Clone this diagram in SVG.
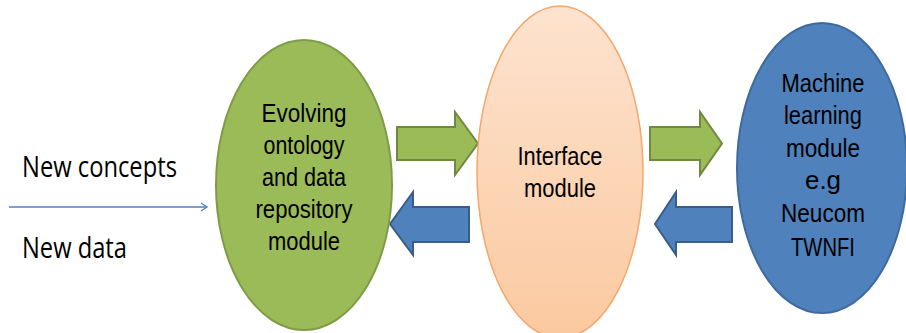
<svg xmlns="http://www.w3.org/2000/svg" width="906" height="333" viewBox="0 0 906 333">
<defs>
<linearGradient id="peach" x1="0" y1="0" x2="0" y2="1">
<stop offset="0" stop-color="#FDE3CF"/>
<stop offset="1" stop-color="#FBC9A0"/>
</linearGradient>
<marker id="open" markerWidth="10" markerHeight="10" refX="8" refY="5" orient="auto" markerUnits="userSpaceOnUse">
<path d="M2,1 L8,5 L2,9" fill="none" stroke="#4F81BD" stroke-width="1.3"/>
</marker>
</defs>
<style>
text{font-family:"Liberation Sans",Arial,sans-serif;fill:#000;text-anchor:middle;}
.lbl{font-size:25.5px;}
.side{font-size:30px;text-anchor:start;font-family:"Open Sans","Liberation Sans",sans-serif;}
.ga{fill:#9BBB59;stroke:#71893F;stroke-width:2;}
.ba{fill:#4F81BD;stroke:#385D8A;stroke-width:2;}
</style>
<rect width="906" height="333" fill="#fff"/>
<g id="inputs">
<text class="side" x="22" y="177" textLength="155" lengthAdjust="spacingAndGlyphs">New concepts</text>
<text class="side" x="22" y="258" textLength="105" lengthAdjust="spacingAndGlyphs">New data</text>
</g>
<g id="connectors">
<line x1="9" y1="207" x2="207" y2="207" stroke="#4F81BD" stroke-width="1.5" marker-end="url(#open)"/>
<path class="ga" d="M397,127 L455,127 L455,112 L478,143.5 L455,175 L455,160 L397,160 Z"/>
<path class="ba" d="M469,207 L413,207 L413,192 L390,224 L413,255 L413,242 L469,242 Z"/>
<path class="ga" d="M650,127 L700,127 L700,112 L722,143.5 L700,175 L700,160 L650,160 Z"/>
<path class="ba" d="M732,207 L676,207 L676,192 L655,224 L676,255 L676,242 L732,242 Z"/>
</g>
<g id="ontology">
<ellipse cx="304" cy="185" rx="88" ry="145" fill="#9BBB59" stroke="#7E9C45" stroke-width="2"/>
<text class="lbl" x="304" y="122" textLength="85" lengthAdjust="spacingAndGlyphs">Evolving</text>
<text class="lbl" x="304" y="154" textLength="81" lengthAdjust="spacingAndGlyphs">ontology</text>
<text class="lbl" x="304" y="186" textLength="84" lengthAdjust="spacingAndGlyphs">and data</text>
<text class="lbl" x="304" y="218" textLength="97" lengthAdjust="spacingAndGlyphs">repository</text>
<text class="lbl" x="304" y="250" textLength="72" lengthAdjust="spacingAndGlyphs">module</text>
</g>
<g id="interface">
<ellipse cx="560" cy="172" rx="83" ry="166" fill="url(#peach)" stroke="#F5A76C" stroke-width="1.5"/>
<text class="lbl" x="560" y="165" textLength="85" lengthAdjust="spacingAndGlyphs">Interface</text>
<text class="lbl" x="560" y="197" textLength="72" lengthAdjust="spacingAndGlyphs">module</text>
</g>
<g id="ml">
<ellipse cx="822" cy="168" rx="85" ry="145" fill="#4F81BD" stroke="#3F6A9E" stroke-width="2"/>
<text class="lbl" x="823" y="92" textLength="83" lengthAdjust="spacingAndGlyphs">Machine</text>
<text class="lbl" x="823" y="124" textLength="78" lengthAdjust="spacingAndGlyphs">learning</text>
<text class="lbl" x="823" y="157" textLength="74" lengthAdjust="spacingAndGlyphs">module</text>
<text class="lbl" x="823" y="189" textLength="36" lengthAdjust="spacingAndGlyphs">e.g</text>
<text class="lbl" x="823" y="222" textLength="84" lengthAdjust="spacingAndGlyphs">Neucom</text>
<text class="lbl" x="823" y="256" textLength="64" lengthAdjust="spacingAndGlyphs">TWNFI</text>
</g>
</svg>
